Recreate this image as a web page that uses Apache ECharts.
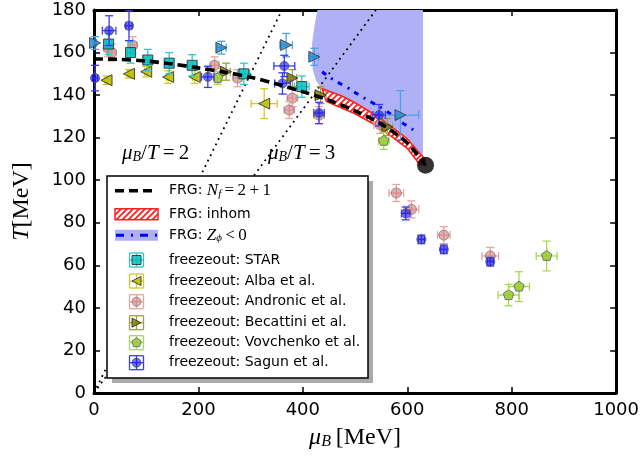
<!DOCTYPE html>
<html><head><meta charset="utf-8">
<script src="https://cdn.jsdelivr.net/npm/echarts@6/dist/echarts.min.js"></script>
<style>html,body{margin:0;padding:0;background:#fff}#c{width:642px;height:466px}</style>
</head><body><div id="c"></div>
<script>
// ---------- axis ticks ----------
const xTicks = [0, 200, 400, 600, 800, 1000];
const yTicks = [0, 20, 40, 60, 80, 100, 120, 140, 160, 180];

// ---------- FRG curves ----------
const frgMu = [0, 50, 100, 150, 200, 250, 300, 350, 400, 450, 500, 550, 600, 635];
const frgT  = [157, 156.8, 156, 154.6, 152.8, 150.8, 148.4, 145.2, 141.6, 137.6, 132.6, 126.4, 117.5, 107];
const cep = [635, 107];
const inhomUpper = [[437, 143], [475, 139.6], [500, 136.4], [546, 129.6], [600, 119.5], [635, 109.5]];
const inhomLower = [[625, 107], [600, 115], [546, 125], [500, 131.2], [445, 137]];
const zphiRegion = [[428, 180], [422, 172], [418, 165], [417, 158], [419, 152], [425, 147], [433, 144], [440, 142],
                    [500, 133], [550, 126.4], [600, 117.5], [630, 109], [630, 180]];
const zphiLine = [[437, 151], [460, 147], [485, 143.6], [508, 140], [530, 136.9], [552, 133.8], [575, 129.9], [597, 125.9], [620, 122.5]];
const ratio2 = [[0, 0], [360, 180]];
const ratio3 = [[0, 0], [540, 180]];

// ---------- freeze-out data: [muB, T, dMu, dT] ----------
const star = [[28, 164, 5, 5], [70, 160, 6, 5], [103, 156.5, 8, 5], [144, 155, 8, 5], [188, 154, 8, 5], [287, 150, 11, 5], [398, 144, 14, 5]];
const alba = [[24, 147, 3, 2], [67, 150, 3, 2], [100, 151, 3, 2.5], [142, 148.5, 3, 3], [193, 148.5, 4, 3], [326, 136, 25, 7]];
const andronic = [[27, 162, 8, 4], [34, 160, 8, 4], [74, 163.5, 8, 4], [231, 154, 8, 4], [275, 148, 8, 4], [380, 138.6, 10, 4],
                  [374, 133, 10, 4], [431, 130.6, 10, 4], [548, 126, 12, 4], [579, 94, 14, 4], [608, 86.3, 14, 4], [670, 74.2, 12, 4], [759, 64.4, 16, 4]];
const becattini = [[253, 151, 8, 4], [380, 148, 8, 4], [434, 140, 10, 4], [562, 125, 10, 4]];
const vovchenko = [[237, 148, 6, 3], [555, 118.5, 10, 4], [794, 46, 20, 5], [814, 50, 20, 7], [867, 64.4, 20, 7]];
const sagun = [[2, 148, 5, 6], [29, 170.3, 13, 7], [67, 172.6, 6, 7], [218, 148.6, 12, 5], [364.5, 153.7, 20, 5], [361, 145.5, 15, 5],
               [431, 131.6, 10, 5], [546, 130.6, 12, 5], [597, 84.4, 8, 3], [627, 72.2, 6, 2], [670, 67.5, 6, 2], [759, 61.7, 6, 2]];
const extra = [[2, 164.5, 3, 3], [244, 162.3, 9, 3], [368, 163.5, 12, 5.5], [422, 158, 8, 4], [587, 130.6, 35, 11.5]];

// ---------- legend labels ----------
const legendLabels = [
  '{t|FRG: }{m|N}{ms|f}{r|\u2009=\u20092\u2009+\u20091}',
  '{t|FRG: inhom}',
  '{t|FRG: }{m|Z}{ms|\u03d5}{r|\u2009<\u20090}',
  'freezeout: STAR', 'freezeout: Alba et al.', 'freezeout: Andronic et al.',
  'freezeout: Becattini et al.', 'freezeout: Vovchenko et al.', 'freezeout: Sagun et al.'
];

// ---------- styles ----------
const sets = [
  {data: andronic, kind: 'circle', size: 10, bar: '#eba3a3', fill: 'rgba(214,130,130,0.65)', stroke: '#888'},
  {data: extra, kind: 'triRight', size: 11, bar: '#4aa3e3', fill: 'rgba(40,140,215,0.85)', stroke: '#444'},
  {data: alba, kind: 'triLeft', size: 11, bar: '#cccc30', fill: 'rgba(191,191,0,0.9)', stroke: '#333'},
  {data: star, kind: 'square', size: 10, bar: '#2cc8c8', fill: 'rgba(0,191,191,0.85)', stroke: '#333'},
  {data: becattini, kind: 'triRight', size: 11, bar: '#a0a040', fill: 'rgba(128,128,0,0.85)', stroke: '#333'},
  {data: vovchenko, kind: 'pentagon', size: 10, bar: '#a8d850', fill: 'rgba(154,205,50,0.9)', stroke: '#666'},
  {data: sagun, kind: 'circle', size: 9, bar: '#3a3aff', fill: 'rgba(20,20,255,0.6)', stroke: '#555'}
];
const legendSets = [3, 2, 0, 4, 5, 6];

function markerEl(kind, cx, cy, s, fill, stroke) {
  const h = s / 2;
  const style = {fill: fill, stroke: stroke, lineWidth: 0.9};
  if (kind === 'square') return {type: 'rect', shape: {x: cx - h, y: cy - h, width: s, height: s}, style};
  if (kind === 'triLeft') return {type: 'polygon', shape: {points: [[cx - h, cy], [cx + h, cy - h], [cx + h, cy + h]]}, style};
  if (kind === 'triRight') return {type: 'polygon', shape: {points: [[cx + h, cy], [cx - h, cy - h], [cx - h, cy + h]]}, style};
  if (kind === 'pentagon') {
    const pts = [];
    for (let k = 0; k < 5; k++) { const a = -Math.PI / 2 + k * 2 * Math.PI / 5; pts.push([cx + h * 1.1 * Math.cos(a), cy + h * 1.1 * Math.sin(a)]); }
    return {type: 'polygon', shape: {points: pts}, style};
  }
  return {type: 'circle', shape: {cx: cx, cy: cy, r: h}, style};
}
function errEls(cx, cy, xl, xr, yt, yb, color, cap) {
  const st = {stroke: color, lineWidth: 1.3};
  return [
    {type: 'line', shape: {x1: xl, y1: cy, x2: xr, y2: cy}, style: st},
    {type: 'line', shape: {x1: cx, y1: yt, x2: cx, y2: yb}, style: st},
    {type: 'line', shape: {x1: xl, y1: cy - cap, x2: xl, y2: cy + cap}, style: st},
    {type: 'line', shape: {x1: xr, y1: cy - cap, x2: xr, y2: cy + cap}, style: st},
    {type: 'line', shape: {x1: cx - cap, y1: yt, x2: cx + cap, y2: yt}, style: st},
    {type: 'line', shape: {x1: cx - cap, y1: yb, x2: cx + cap, y2: yb}, style: st}
  ];
}

// hatch pattern
const pat = document.createElement('canvas');
pat.width = 6; pat.height = 6;
(function () {
  const g = pat.getContext('2d');
  g.fillStyle = '#fff'; g.fillRect(0, 0, 6, 6);
  g.strokeStyle = '#ff1a1a'; g.lineWidth = 1.7;
  g.beginPath();
  g.moveTo(-1, 7); g.lineTo(7, -1);
  g.moveTo(-4, 4); g.lineTo(4, -4);
  g.moveTo(2, 10); g.lineTo(10, 2);
  g.stroke();
})();

function polySeries(points, style, z) {
  return {
    type: 'custom', coordinateSystem: 'cartesian2d', data: [points[0]], z: z, silent: true,
    renderItem: function (params, api) {
      return {type: 'polygon', shape: {points: points.map(p => api.coord(p))}, style: style};
    }
  };
}
function errSeries(set, z) {
  return {
    type: 'custom', coordinateSystem: 'cartesian2d', data: set.data, z: z, silent: true,
    dimensions: ['x', 'y', 'dx', 'dy'], encode: {x: 0, y: 1},
    renderItem: function (params, api) {
      const x = api.value(0), y = api.value(1), dx = api.value(2), dy = api.value(3);
      const c = api.coord([x, y]);
      const l = api.coord([x - dx, y]), r = api.coord([x + dx, y]);
      const t = api.coord([x, y + dy]), b = api.coord([x, y - dy]);
      const ch = errEls(c[0], c[1], l[0], r[0], t[1], b[1], set.bar, 4);
      ch.push(markerEl(set.kind, c[0], c[1], set.size, set.fill, set.stroke));
      return {type: 'group', children: ch};
    }
  };
}

const series = [];
series.push(polySeries(zphiRegion, {fill: '#b0b0f6'}, 1));
series.push({type: 'line', data: ratio2, showSymbol: false, z: 2, silent: true,
  lineStyle: {color: '#000', width: 1.8, type: [1.8, 4.2]}});
series.push({type: 'line', data: ratio3, showSymbol: false, z: 2, silent: true,
  lineStyle: {color: '#000', width: 1.8, type: [1.8, 4.2]}});
series.push({type: 'line', data: zphiLine, showSymbol: false, z: 3, silent: true, smooth: true,
  lineStyle: {color: '#0000ff', width: 3, type: [5, 6, 2, 6]}});
series.push(polySeries(inhomUpper.concat(inhomLower), {fill: {image: pat, repeat: 'repeat'}, stroke: '#ff2020', lineWidth: 1.6}, 4));
sets.forEach((s, i) => series.push(errSeries(s, 5 + i)));
series.push({type: 'line', data: frgMu.map((m, i) => [m, frgT[i]]), showSymbol: false, z: 20, silent: true, smooth: 0.3,
  lineStyle: {color: '#000', width: 3.6, type: [9, 5]}});
series.push({type: 'scatter', data: [cep], symbol: 'circle', symbolSize: 17, z: 21, silent: true,
  itemStyle: {color: '#000'}});

// ---------- legend (graphic) ----------
const LX = 107, LY = 176, LW = 261, LH = 202;
const rowY = [190.7, 214.3, 235.3, 260, 281, 301.7, 322.7, 342.7, 362.7];
const g = [];
g.push({type: 'rect', shape: {x: LX + 5, y: LY + 5, width: LW, height: LH}, style: {fill: '#aaaaaa'}, z: 100});
g.push({type: 'rect', shape: {x: LX, y: LY, width: LW, height: LH}, style: {fill: '#fff', stroke: '#000', lineWidth: 1.5}, z: 101});
g.push({type: 'line', shape: {x1: 115, y1: rowY[0], x2: 155, y2: rowY[0]}, style: {stroke: '#000', lineWidth: 3.6, lineDash: [9, 5]}, z: 102});
g.push({type: 'rect', shape: {x: 115, y: rowY[1] - 5.5, width: 43, height: 11}, style: {fill: {image: pat, repeat: 'repeat'}, stroke: '#ff2020', lineWidth: 1.5}, z: 102});
g.push({type: 'rect', shape: {x: 115, y: rowY[2] - 5.5, width: 43, height: 11}, style: {fill: '#b0b0f6'}, z: 102});
g.push({type: 'line', shape: {x1: 116, y1: rowY[2], x2: 157, y2: rowY[2]}, style: {stroke: '#0000ff', lineWidth: 3, lineDash: [8, 7, 2, 7]}, z: 103});
legendSets.forEach((si, k) => {
  const s = sets[si], cy = rowY[3 + k], cx = 136.5;
  errEls(cx, cy, cx - 7, cx + 7, cy - 7, cy + 7, s.bar, 7).forEach(e => { e.z = 102; g.push(e); });
  const m = markerEl(s.kind, cx, cy, 9, s.fill, s.stroke); m.z = 103; g.push(m);
});
const rich = {
  t: {fontFamily: 'DejaVu Sans', fontSize: 14, color: '#000'},
  m: {fontFamily: 'Liberation Serif', fontStyle: 'italic', fontSize: 17, color: '#000'},
  ms: {fontFamily: 'Liberation Serif', fontStyle: 'italic', fontSize: 11, color: '#000', verticalAlign: 'bottom', padding: [6, 0, 0, 0]},
  r: {fontFamily: 'Liberation Serif', fontSize: 17, color: '#000'}
};
legendLabels.forEach((txt, k) => {
  g.push({type: 'text', x: 169, y: rowY[k], z: 104,
    style: {text: txt, rich: rich, fontFamily: 'DejaVu Sans', fontSize: 14, fill: '#000', verticalAlign: 'middle', align: 'left'}});
});
const ann = {
  m: {fontFamily: 'Liberation Serif', fontStyle: 'italic', fontSize: 21, color: '#000'},
  s: {fontFamily: 'Liberation Serif', fontStyle: 'italic', fontSize: 14, color: '#000', verticalAlign: 'bottom', padding: [8, 0, 0, 0]},
  r: {fontFamily: 'Liberation Serif', fontSize: 21, color: '#000'}
};
g.push({type: 'text', x: 122, y: 153, z: 50, style: {text: '{m|\u03bc}{s|B}{r|/}{m|T}{r|\u2009=\u20092}', rich: ann, verticalAlign: 'middle'}});
g.push({type: 'text', x: 268, y: 153, z: 50, style: {text: '{m|\u03bc}{s|B}{r|/}{m|T}{r|\u2009=\u20093}', rich: ann, verticalAlign: 'middle'}});

const axisNameRich = {
  i: {fontFamily: 'Liberation Serif', fontStyle: 'italic', fontSize: 24, color: '#000'},
  s: {fontFamily: 'Liberation Serif', fontStyle: 'italic', fontSize: 16, color: '#000', verticalAlign: 'bottom', padding: [9, 0, 0, 0]},
  n: {fontFamily: 'Liberation Serif', fontSize: 24, color: '#000'}
};
const frame = {show: true, onZero: false, lineStyle: {color: '#000', width: 3}};
const tick = {show: true, inside: true, length: 6, lineStyle: {color: '#000', width: 1.5}};
const lab = {fontSize: 18, color: '#000', fontFamily: 'DejaVu Sans', formatter: v => String(v)};

const option = {
  animation: false,
  backgroundColor: '#fff',
  grid: {left: 94, right: 24, top: 10, bottom: 73},
  xAxis: [
    {type: 'value', position: 'bottom', min: xTicks[0], max: xTicks[xTicks.length - 1], interval: xTicks[1] - xTicks[0],
      axisLine: frame, axisTick: tick, splitLine: {show: false}, axisLabel: Object.assign({margin: 8}, lab),
      name: '{i|\u03bc}{s|B}{n|\u2009[MeV]}', nameLocation: 'middle', nameGap: 32, nameTextStyle: {rich: axisNameRich}},
    {type: 'value', position: 'top', min: xTicks[0], max: xTicks[xTicks.length - 1], interval: xTicks[1] - xTicks[0],
      axisLine: frame, axisTick: tick, splitLine: {show: false}, axisLabel: {show: false}}
  ],
  yAxis: [
    {type: 'value', position: 'left', min: yTicks[0], max: yTicks[yTicks.length - 1], interval: yTicks[1] - yTicks[0],
      axisLine: frame, axisTick: tick, splitLine: {show: false}, axisLabel: Object.assign({margin: 8}, lab),
      name: '{i|T}{n|[MeV]}', nameLocation: 'middle', nameGap: 60, nameTextStyle: {rich: axisNameRich}},
    {type: 'value', position: 'right', min: yTicks[0], max: yTicks[yTicks.length - 1], interval: yTicks[1] - yTicks[0],
      axisLine: frame, axisTick: tick, splitLine: {show: false}, axisLabel: {show: false}}
  ],
  series: series,
  graphic: g
};
const chart = echarts.init(document.getElementById('c'), null, {renderer: 'canvas'});
chart.setOption(option);
</script>
</body></html>
